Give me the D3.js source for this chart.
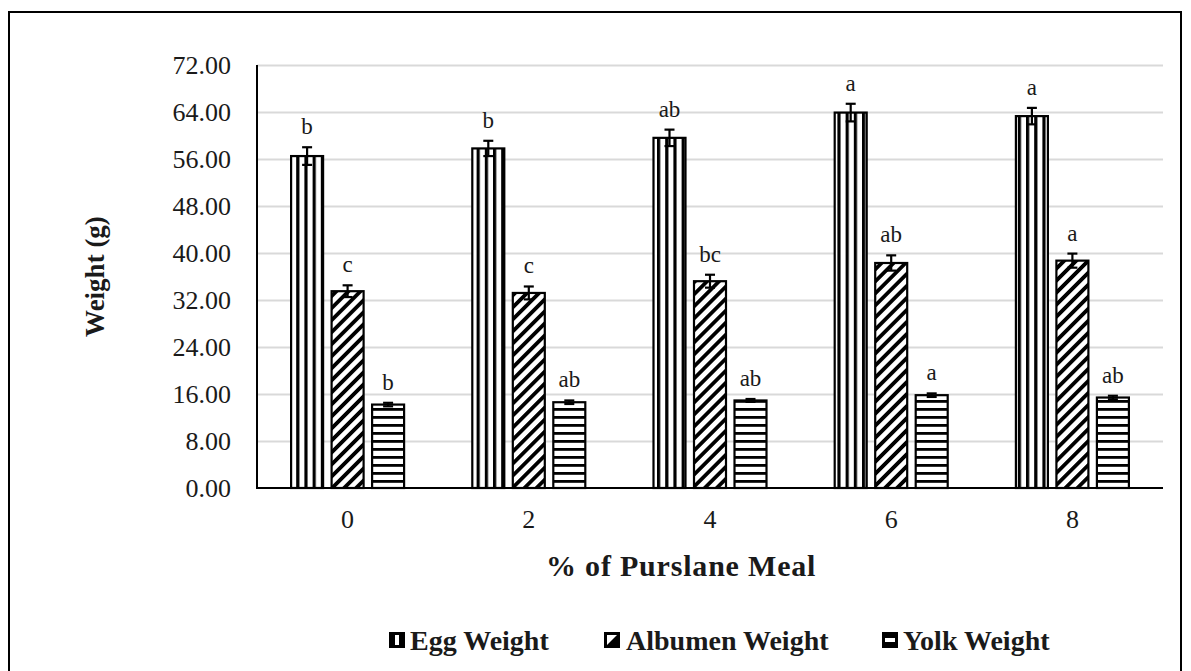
<!DOCTYPE html>
<html><head><meta charset="utf-8">
<script src="https://cdn.jsdelivr.net/npm/d3@7"></script>
<style>body{margin:0;background:#fff;} svg{display:block;}</style>
</head><body>
<script>
const categories = ["0", "2", "4", "6", "8"];
const seriesNames = ["Egg Weight", "Albumen Weight", "Yolk Weight"];
const eggWeight = [56.5, 57.8, 59.6, 63.9, 63.3];
const albumenWeight = [33.5, 33.2, 35.2, 38.3, 38.7];
const yolkWeight = [14.2, 14.6, 14.9, 15.8, 15.4];
const eggErr = [1.5, 1.3, 1.4, 1.5, 1.4];
const albumenErr = [1.0, 1.1, 1.1, 1.3, 1.2];
const yolkErr = [0.3, 0.3, 0.25, 0.3, 0.3];
const eggLetters = ["b", "b", "ab", "a", "a"];
const albumenLetters = ["c", "c", "bc", "ab", "a"];
const yolkLetters = ["b", "ab", "ab", "a", "ab"];
const yTicks = [0, 8, 16, 24, 32, 40, 48, 56, 64, 72];
const yTitle = "Weight (g)";
const xTitle = "% of Purslane Meal";

const values = [eggWeight, albumenWeight, yolkWeight];
const errs = [eggErr, albumenErr, yolkErr];
const letters = [eggLetters, albumenLetters, yolkLetters];
const patterns = ["pEgg", "pAlb", "pYolk"];

const W = 1191, H = 671;
const L = 257, R = 1163, T = 65, B = 488;
const serif = "'Liberation Serif','Times New Roman','DejaVu Serif',serif";
const txt = "#1a1a1a";

const svg = d3.select("body").append("svg").attr("width", W).attr("height", H);
svg.append("rect").attr("width", W).attr("height", H).attr("fill", "#fff");
svg.append("rect").attr("x", 9).attr("y", 12).attr("width", 1172).attr("height", 700)
  .attr("fill", "none").attr("stroke", "#000").attr("stroke-width", 2);

// patterns
const defs = svg.append("defs");
const pe = defs.append("pattern").attr("id", "pEgg").attr("patternUnits", "userSpaceOnUse")
  .attr("width", 8.2).attr("height", 10).attr("x", 1);
pe.append("rect").attr("width", 8.2).attr("height", 10).attr("fill", "#fff");
pe.append("rect").attr("x", 0).attr("width", 3.2).attr("height", 10).attr("fill", "#000");
const pa = defs.append("pattern").attr("id", "pAlb").attr("patternUnits", "userSpaceOnUse")
  .attr("width", 8.5).attr("height", 8.5).attr("patternTransform", "rotate(45)");
pa.append("rect").attr("width", 8.5).attr("height", 8.5).attr("fill", "#fff");
pa.append("rect").attr("width", 3.8).attr("height", 8.5).attr("fill", "#000");
const py = defs.append("pattern").attr("id", "pYolk").attr("patternUnits", "userSpaceOnUse")
  .attr("width", 10).attr("height", 8).attr("y", 0);
py.append("rect").attr("width", 10).attr("height", 8).attr("fill", "#fff");
py.append("rect").attr("y", 0).attr("width", 10).attr("height", 2.8).attr("fill", "#000");

const y = d3.scaleLinear().domain([0, 72]).range([B, T]);
const x0 = d3.scaleBand().domain(categories).range([L, R]);
const bw = x0.bandwidth();
const x1 = d3.scaleBand().domain(seriesNames).range([bw / 2 - 56.5, bw / 2 + 56.5]).paddingInner(0.21);

// grid
const grid = svg.append("g").attr("transform", `translate(${L},0)`)
  .call(d3.axisLeft(y).tickValues(yTicks.filter(d => d > 0)).tickSize(-(R - L)).tickFormat(""));
grid.select(".domain").remove();
grid.selectAll("line").attr("stroke", "#d9d9d9").attr("stroke-width", 2);

// y labels
const yAx = svg.append("g").attr("transform", `translate(${L},0)`)
  .call(d3.axisLeft(y).tickValues(yTicks).tickSize(0).tickPadding(26).tickFormat(d3.format(".2f")));
yAx.select(".domain").remove();
yAx.selectAll("text").attr("font-family", serif).attr("font-size", 26).attr("fill", txt);

// x labels
const xAx = svg.append("g").attr("transform", `translate(0,${B})`)
  .call(d3.axisBottom(x0).tickSize(0).tickPadding(22));
xAx.select(".domain").remove();
xAx.selectAll("text").attr("font-family", serif).attr("font-size", 26).attr("fill", txt);

// bars
const rows = [];
categories.forEach((c, i) => seriesNames.forEach((s, j) => rows.push({
  c, s, j, v: values[j][i], e: errs[j][i], l: letters[j][i]
})));
const g = svg.append("g");
g.selectAll("rect.bar").data(rows).join("rect").attr("class", "bar")
  .attr("x", d => x0(d.c) + x1(d.s)).attr("width", x1.bandwidth())
  .attr("y", d => y(d.v)).attr("height", d => B - y(d.v))
  .attr("fill", d => `url(#${patterns[d.j]})`).attr("stroke", "#000").attr("stroke-width", 2.2);

// error bars
const cx = d => x0(d.c) + x1(d.s) + x1.bandwidth() / 2;
const eb = g.selectAll("g.err").data(rows).join("g").attr("class", "err")
  .attr("stroke", "#000").attr("stroke-width", 2.2);
eb.append("line").attr("x1", cx).attr("x2", cx).attr("y1", d => y(d.v + d.e)).attr("y2", d => y(d.v - d.e));
eb.append("line").attr("x1", d => cx(d) - 5).attr("x2", d => cx(d) + 5).attr("y1", d => y(d.v + d.e)).attr("y2", d => y(d.v + d.e));
eb.append("line").attr("x1", d => cx(d) - 5).attr("x2", d => cx(d) + 5).attr("y1", d => y(d.v - d.e)).attr("y2", d => y(d.v - d.e));

// letters
g.selectAll("text.lt").data(rows).join("text").attr("class", "lt")
  .attr("x", cx).attr("y", d => y(d.v + d.e) - 13)
  .attr("text-anchor", "middle").attr("font-family", serif).attr("font-size", 23).attr("fill", txt)
  .text(d => d.l);

// axes lines
svg.append("line").attr("x1", L).attr("x2", L).attr("y1", T).attr("y2", B + 1)
  .attr("stroke", "#000").attr("stroke-width", 2);
svg.append("line").attr("x1", L).attr("x2", R).attr("y1", B).attr("y2", B)
  .attr("stroke", "#000").attr("stroke-width", 2);

// titles
svg.append("text").attr("transform", `translate(104,${(T + B) / 2}) rotate(-90)`)
  .attr("text-anchor", "middle").attr("font-family", serif).attr("font-weight", "bold")
  .attr("font-size", 27).attr("fill", txt).text(yTitle);
svg.append("text").attr("x", 546).attr("y", 576)
  .attr("font-family", serif).attr("font-weight", "bold").attr("font-size", 30)
  .attr("letter-spacing", 0.8).attr("fill", txt).text(xTitle);

// legend
const legX = [389, 604, 882];
const textX = [410, 626, 903];
const lg = svg.append("g");
seriesNames.forEach((s, j) => {
  const lx = legX[j], ly = 632;
  lg.append("rect").attr("x", lx).attr("y", ly).attr("width", 16).attr("height", 16).attr("fill", "#000");
  if (j === 0) lg.append("rect").attr("x", lx + 6).attr("y", ly + 3).attr("width", 4).attr("height", 10).attr("fill", "#fff");
  if (j === 1) lg.append("path").attr("d", `M${lx + 3},${ly + 13}L${lx + 13},${ly + 3}L${lx + 3},${ly + 3}Z`).attr("fill", "#fff");
  if (j === 2) lg.append("rect").attr("x", lx + 3).attr("y", ly + 6).attr("width", 10).attr("height", 4).attr("fill", "#fff");
  lg.append("text").attr("x", textX[j]).attr("y", 650).attr("font-family", serif).attr("font-weight", "bold")
    .attr("font-size", 28).attr("fill", txt).text(s);
});
</script>
</body></html>
